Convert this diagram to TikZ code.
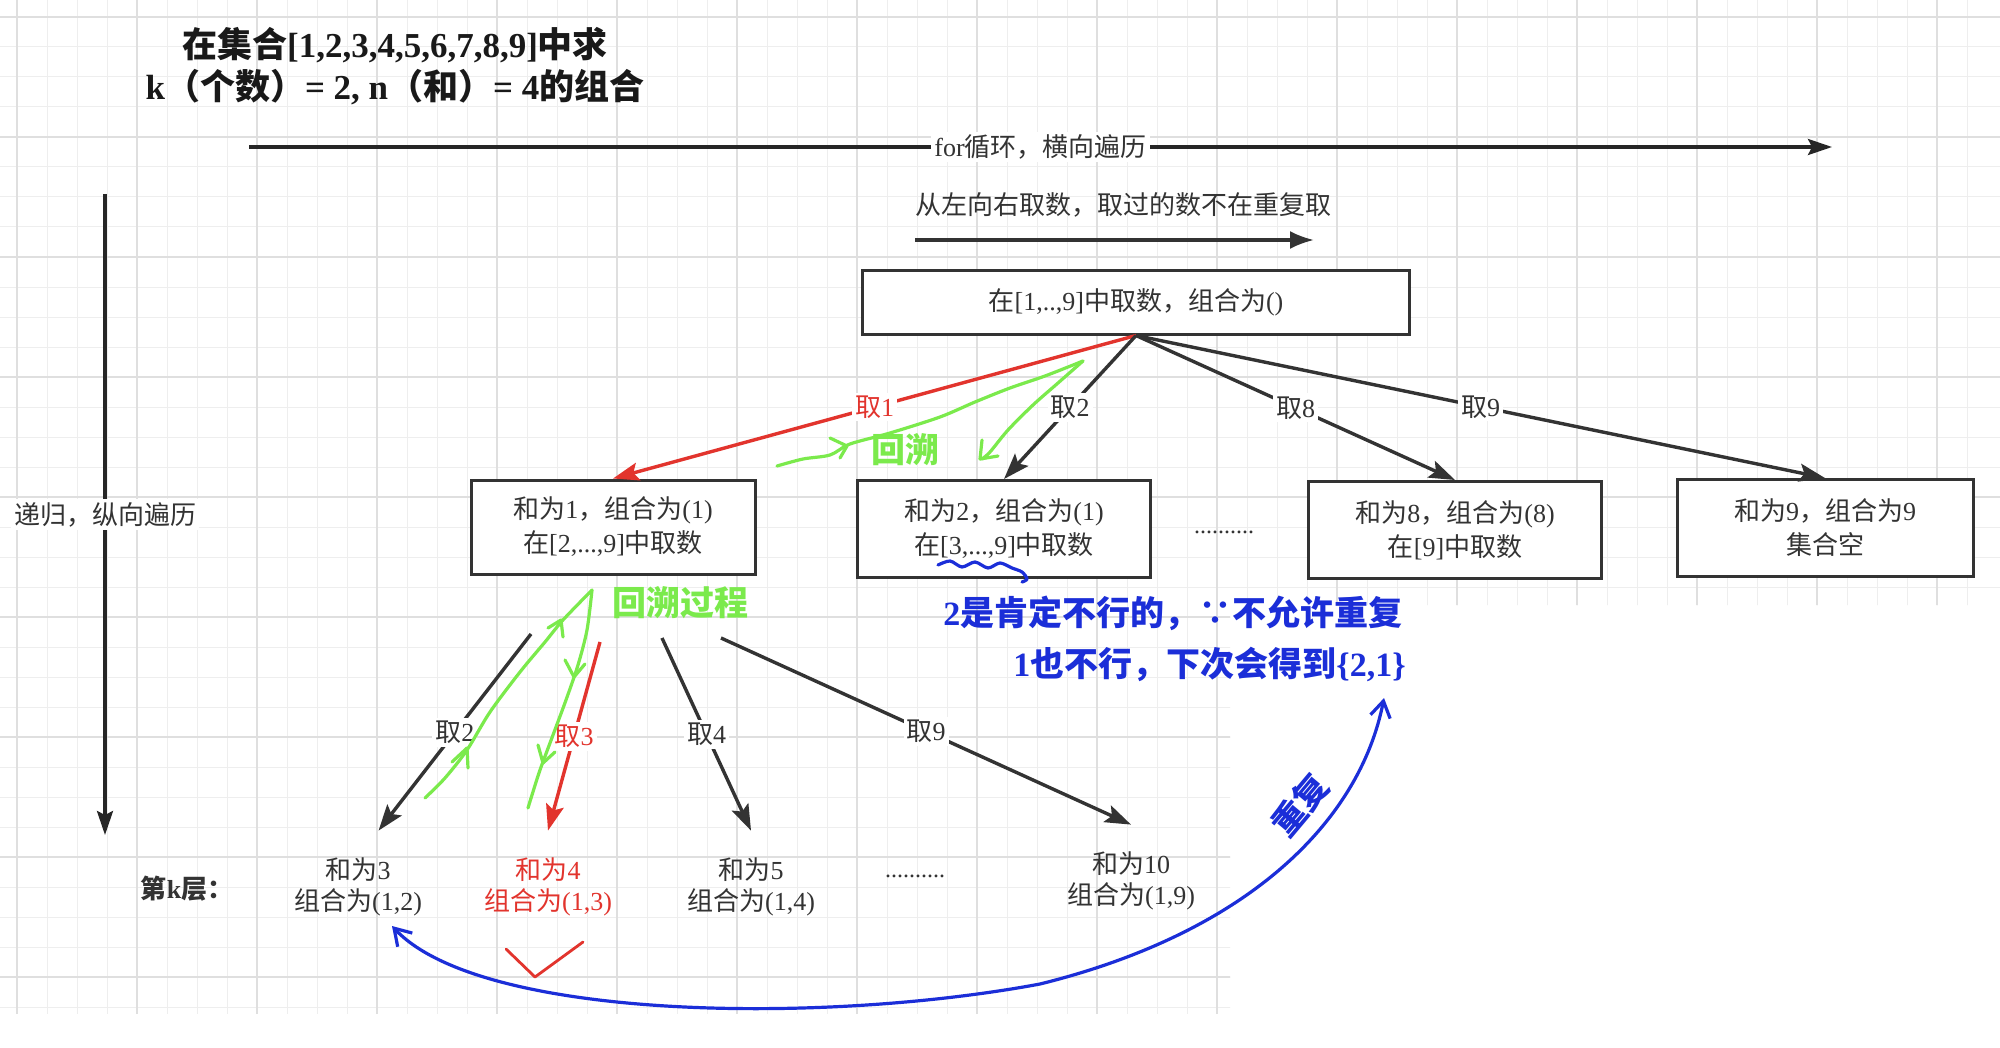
\documentclass[tikz,border=0pt]{standalone}
\usepackage{fontspec}
\setmainfont{Liberation Serif}
\newfontfamily\cjkfont{Noto Sans CJK SC}
% CJK characters switch to the CJK font by themselves
\newXeTeXintercharclass\cjkclass
\newcount\cjkcode
\cjkcode="2E80
\loop
  \XeTeXcharclass\cjkcode=\cjkclass
  \advance\cjkcode by 1
\ifnum\cjkcode<"A000 \repeat
\cjkcode="FF00
\loop
  \XeTeXcharclass\cjkcode=\cjkclass
  \advance\cjkcode by 1
\ifnum\cjkcode<"FFF0 \repeat
\XeTeXcharclass"2235=\cjkclass
\XeTeXinterchartoks 0 \cjkclass = {\begingroup\cjkfont}
\XeTeXinterchartoks 4095 \cjkclass = {\begingroup\cjkfont}
\XeTeXinterchartoks \cjkclass 0 = {\endgroup}
\XeTeXinterchartoks \cjkclass 4095 = {\endgroup}
\XeTeXinterchartokenstate=1
\usetikzlibrary{arrows.meta}
\definecolor{lineblack}{HTML}{333333}
\definecolor{textgray}{HTML}{333333}
\definecolor{pickred}{HTML}{E2342D}
\definecolor{pengreen}{HTML}{7BEA4C}
\definecolor{penblue}{HTML}{1B2ED8}
\definecolor{gridminor}{HTML}{EEEEEE}
\definecolor{gridmajor}{HTML}{DFDFDF}
\begin{document}
\begin{tikzpicture}[x=0.5pt,y=-0.5pt,
	sumbox/.style={draw=lineblack,line width=1.5pt,fill=white,text=textgray,align=center,font=\fontsize{13}{17}\selectfont},
	leaf/.style={text=textgray,align=center,font=\fontsize{13}{15.5}\selectfont,minimum height=56pt,inner sep=2pt},
	elabel/.style={fill=white,text=textgray,inner sep=1.5pt,font=\fontsize{13}{15}\selectfont},
	branch/.style={color=lineblack,line width=1.7pt,-{Stealth[length=13pt,width=9pt,inset=2.5pt]}},
	pickbranch/.style={branch,color=pickred},
	axisline/.style={color=black!85,line width=1.6pt,-{Stealth[length=12pt,width=8pt,inset=2pt]}},
	penstroke/.style={line width=1.6pt,line cap=round,line join=round},
	handtext/.style={font=\fontsize{17}{25.5}\selectfont\bfseries,inner sep=1pt}]
	\fill[white] (0,0) rectangle (2000,1048);
	% grid paper
	\begin{scope}
		\clip (0,0) -- (2000,0) -- (2000,605) -- (1230,605) -- (1230,1014) -- (0,1014) -- cycle;
		\foreach \gx in {17,47,...,1990} {\draw[gridminor,line width=0.5pt] (\gx,0) -- (\gx,1014);}
		\foreach \gy in {17,47,...,1010} {\draw[gridminor,line width=0.5pt] (0,\gy) -- (2000,\gy);}
		\foreach \gx in {17,137,...,1990} {\draw[gridmajor,line width=0.7pt] (\gx,0) -- (\gx,1014);}
		\foreach \gy in {17,137,...,1010} {\draw[gridmajor,line width=0.7pt] (0,\gy) -- (2000,\gy);}
	\end{scope}
	\useasboundingbox (0,0) rectangle (2000,1048);
	\node[font=\fontsize{17.5}{21}\selectfont\bfseries,text=black!90,align=center] (title) at (395,66) {在集合[1,2,3,4,5,6,7,8,9]中求\\k（个数）= 2, n（和）= 4的组合};
	% loop and recursion directions
	\coordinate (forStart) at (249,147);
	\coordinate (forEnd) at (1832,147);
	\draw[axisline] (forStart) -- node[elabel] (forLbl) {for循环，横向遍历} (forEnd);
	\coordinate (recTop) at (105,194);
	\coordinate (recEnd) at (105,835);
	\draw[axisline] (recTop) -- node[elabel] (recLbl) {递归，纵向遍历} (recEnd);
	\node[text=textgray,font=\fontsize{13}{15}\selectfont] (orderNote) at (1123,205) {从左向右取数，取过的数不在重复取};
	\coordinate (orderStart) at (915,240);
	\coordinate (orderEnd) at (1314,240);
	\draw[color=lineblack,line width=1.6pt,-{Latex[length=12pt,width=9pt]}] (orderStart) -- (orderEnd);
	% first level
	\node[sumbox,minimum width=273.5pt,minimum height=32pt] (root) at (1136,302) {在[1,..,9]中取数，组合为()};
	\node[sumbox,minimum width=142pt,minimum height=47pt] (sum1) at (613,527) {和为1，组合为(1)\\在[2,...,9]中取数};
	\node[sumbox,minimum width=146.5pt,minimum height=48.5pt] (sum2) at (1004,529) {和为2，组合为(1)\\在[3,...,9]中取数};
	\node[sumbox,minimum width=146.5pt,minimum height=48.5pt] (sum8) at (1455,530) {和为8，组合为(8)\\在[9]中取数};
	\node[sumbox,minimum width=148pt,minimum height=48.5pt] (sum9) at (1825,528) {和为9，组合为9\\集合空};
	\node[text=textgray,font=\fontsize{12}{14}\selectfont] (dotsTop) at (1224,532) {..........};
	\draw[pickbranch] (root.south) -- node[elabel,text=pickred] (take1) {取1} (sum1.north);
	\draw[branch] (root.south) -- node[elabel] (take2) {取2} (sum2.north);
	\draw[branch] (root.south) -- node[elabel] (take8) {取8} (sum8.north);
	\draw[branch] (root.south) -- node[elabel] (take9) {取9} (sum9.north);
	% second level
	\node[leaf] (leaf3) at (358,887) {和为3\\组合为(1,2)};
	\node[leaf,text=pickred] (leaf4) at (548,887) {和为4\\组合为(1,3)};
	\node[leaf] (leaf5) at (751,887) {和为5\\组合为(1,4)};
	\node[text=textgray,font=\fontsize{12}{14}\selectfont] (dotsLow) at (915,876) {..........};
	\node[leaf] (leaf10) at (1131,881) {和为10\\组合为(1,9)};
	\node[text=textgray,font=\fontsize{13}{15}\selectfont\bfseries] (layerK) at (187,889) {第k层：};
	\coordinate (from2) at (531,634);
	\coordinate (from3) at (600,642);
	\coordinate (from4) at (662,638);
	\coordinate (from9) at (721,638);
	\draw[branch] (from2) -- node[elabel] (next2) {取2} (leaf3.70);
	\draw[pickbranch] (from3) -- node[elabel,text=pickred] (next3) {取3} (leaf4.north);
	\draw[branch] (from4) -- node[elabel] (next4) {取4} (leaf5.north);
	\draw[branch] (from9) -- node[elabel] (next9) {取9} (leaf10.north);
	% green pen: backtracking
	\draw[penstroke,pengreen] plot[smooth] coordinates {(777,466) (803,459) (830,455) (850,444) (890,433) (940,417) (975,402) (1010,388) (1045,376) (1083,361)};
	\draw[penstroke,pengreen] plot[smooth] coordinates {(1083,361) (1058,383) (1033,405) (1008,430) (990,452) (982,459)};
	\draw[penstroke,pengreen] (830,438) -- (847,446) -- (840,458);
	\draw[penstroke,pengreen] (982,440) -- (980,459) -- (998,456);
	\node[handtext,text=pengreen] (backTop) at (905,450) {回溯};
	\draw[penstroke,pengreen] plot[smooth] coordinates {(425,798) (445,778) (467,750) (490,712) (520,672) (545,642) (563,620) (592,590)};
	\draw[penstroke,pengreen] plot[smooth] coordinates {(592,590) (587,630) (578,665) (566,700) (553,735) (540,770) (532,795) (528,808)};
	\draw[penstroke,pengreen] (452,762) -- (467,748) -- (468,768);
	\draw[penstroke,pengreen] (548,628) -- (561,620) -- (563,637);
	\draw[penstroke,pengreen] (565,660) -- (574,677) -- (585,664);
	\draw[penstroke,pengreen] (538,745) -- (543,763) -- (555,752);
	\node[handtext,text=pengreen] (backLow) at (680,603) {回溯过程};
	\draw[penstroke,pickred,line width=1.4pt] (506,949) -- (535,977) -- (583,942);
	% blue pen: why 1 and 2 are skipped
	\draw[penstroke,penblue] plot[smooth] coordinates {(938,565) (950,561) (962,567) (975,562) (988,568) (1000,563) (1012,568) (1022,572) (1027,579) (1022,582)};
	\node[handtext,text=penblue,align=left,anchor=north west] (whyNote) at (941,594) {2是肯定不行的，∵不允许重复\\\hspace*{35pt}1也不行，下次会得到\{2,1\}};
	\node[handtext,text=penblue,rotate=50] (dupLbl) at (1300,805) {重复};
	\coordinate (dupFrom) at (1384,698);
	\coordinate (dupTo) at (392,926);
	\draw[penstroke,penblue,{Straight Barb[length=8pt,width=10pt]}-{Straight Barb[length=8pt,width=10pt]}] (dupFrom) .. controls (1360,820) and (1250,932) .. (1040,984) .. controls (820,1025) and (480,1020) .. (dupTo);
\end{tikzpicture}
\end{document}
